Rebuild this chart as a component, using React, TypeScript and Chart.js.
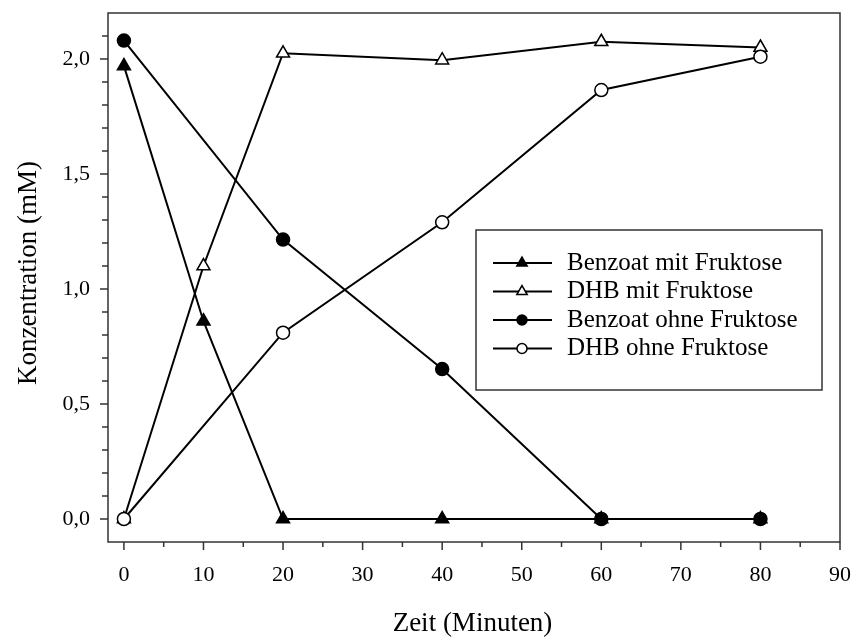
import React, { useEffect, useRef } from "react";
import { Chart, registerables } from "chart.js";

Chart.register(...registerables);

const timesTriangle = [0, 10, 20, 40, 60, 80];
const timesCircle = [0, 20, 40, 60, 80];
const benzoatMitFruktose = [1.97, 0.86, 0, 0, 0, 0];
const dhbMitFruktose = [0, 1.1, 2.025, 1.995, 2.075, 2.05];
const benzoatOhneFruktose = [2.08, 1.215, 0.652, 0, 0];
const dhbOhneFruktose = [0, 0.81, 1.29, 1.865, 2.01];

const seriesLabels = [
  "Benzoat mit Fruktose",
  "DHB mit Fruktose",
  "Benzoat ohne Fruktose",
  "DHB ohne Fruktose",
];

const xTickValues = [0, 10, 20, 30, 40, 50, 60, 70, 80, 90];
const xMinorTickValues = [5, 15, 25, 35, 45, 55, 65, 75, 85];
const yTickValues = [0, 0.5, 1.0, 1.5, 2.0];
const yMinorTickValues = [0.1, 0.2, 0.3, 0.4, 0.6, 0.7, 0.8, 0.9, 1.1, 1.2, 1.3, 1.4, 1.6, 1.7, 1.8, 1.9, 2.1];

const xTitle = "Zeit (Minuten)";
const yTitle = "Konzentration (mM)";

const FONT = "'Liberation Serif', 'DejaVu Serif', serif";

function pts(xs: number[], ys: number[]) {
  return xs.map((x, i) => ({ x, y: ys[i] }));
}

function drawMarker(ctx: CanvasRenderingContext2D, style: string, x: number, y: number, r: number, fill: string) {
  ctx.save();
  ctx.beginPath();
  if (style === "triangle") {
    let rad = 0;
    ctx.moveTo(x + Math.sin(rad) * r, y - Math.cos(rad) * r);
    rad += (2 * Math.PI) / 3;
    ctx.lineTo(x + Math.sin(rad) * r, y - Math.cos(rad) * r);
    rad += (2 * Math.PI) / 3;
    ctx.lineTo(x + Math.sin(rad) * r, y - Math.cos(rad) * r);
    ctx.closePath();
  } else {
    ctx.arc(x, y, r, 0, Math.PI * 2);
  }
  ctx.fillStyle = fill;
  ctx.fill();
  ctx.lineWidth = 1.5;
  ctx.strokeStyle = "#000";
  ctx.stroke();
  ctx.restore();
}

function zeroPadding(s: any) {
  s.paddingLeft = 0;
  s.paddingRight = 0;
  s.paddingTop = 0;
  s.paddingBottom = 0;
}

const framePlugin = {
  id: "framePlugin",
  afterDraw(chart: any) {
    const ctx: CanvasRenderingContext2D = chart.ctx;
    const { left, right, top, bottom } = chart.chartArea;
    const xs = chart.scales.x;
    const ys = chart.scales.y;
    ctx.save();
    ctx.strokeStyle = "#333";
    ctx.lineWidth = 1.5;
    ctx.strokeRect(left, top, right - left, bottom - top);
    ctx.beginPath();
    xTickValues.forEach((v) => {
      const px = xs.getPixelForValue(v);
      ctx.moveTo(px, bottom);
      ctx.lineTo(px, bottom + 8);
    });
    xMinorTickValues.forEach((v) => {
      const px = xs.getPixelForValue(v);
      ctx.moveTo(px, bottom);
      ctx.lineTo(px, bottom + 5);
    });
    yTickValues.forEach((v) => {
      const py = ys.getPixelForValue(v);
      ctx.moveTo(left, py);
      ctx.lineTo(left - 8, py);
    });
    yMinorTickValues.forEach((v) => {
      const py = ys.getPixelForValue(v);
      ctx.moveTo(left, py);
      ctx.lineTo(left - 6, py);
    });
    ctx.stroke();

    // axis titles
    ctx.fillStyle = "#000";
    ctx.font = `27px ${FONT}`;
    ctx.textAlign = "center";
    ctx.textBaseline = "alphabetic";
    ctx.fillText(xTitle, 472.5, 631);
    ctx.save();
    ctx.translate(36, 273);
    ctx.rotate(-Math.PI / 2);
    ctx.fillText(yTitle, 0, 0);
    ctx.restore();

    // legend
    const bx = 476, by = 230, bw = 346, bh = 160;
    ctx.fillStyle = "#fff";
    ctx.fillRect(bx, by, bw, bh);
    ctx.strokeStyle = "#333";
    ctx.lineWidth = 1.5;
    ctx.strokeRect(bx, by, bw, bh);
    const rows = [263, 291.5, 320, 348.5];
    chart.data.datasets.forEach((ds: any, i: number) => {
      const y = rows[i];
      ctx.beginPath();
      ctx.strokeStyle = "#000";
      ctx.lineWidth = 2;
      ctx.moveTo(493, y);
      ctx.lineTo(552, y);
      ctx.stroke();
      drawMarker(ctx, ds.pointStyle, 522, y, ds.pointStyle === "triangle" ? 6 : 5, ds.pointBackgroundColor);
      ctx.fillStyle = "#000";
      ctx.font = `25px ${FONT}`;
      ctx.textAlign = "left";
      ctx.textBaseline = "middle";
      ctx.fillText(ds.label, 567, y);
    });
    ctx.restore();
  },
};

export default function App() {
  const canvasRef = useRef<HTMLCanvasElement | null>(null);

  useEffect(() => {
    document.body.style.margin = "0";
    const canvas = canvasRef.current;
    if (!canvas) return;
    const chart = new Chart(canvas, {
      type: "line",
      data: {
        datasets: [
          {
            label: seriesLabels[0],
            data: pts(timesTriangle, benzoatMitFruktose),
            pointStyle: "triangle",
            pointRadius: 7.5,
            pointBackgroundColor: "#000",
            order: 3,
          },
          {
            label: seriesLabels[1],
            data: pts(timesTriangle, dhbMitFruktose),
            pointStyle: "triangle",
            pointRadius: 7.5,
            pointBackgroundColor: "#fff",
            order: 2,
          },
          {
            label: seriesLabels[2],
            data: pts(timesCircle, benzoatOhneFruktose),
            pointStyle: "circle",
            pointRadius: 6.5,
            pointBackgroundColor: "#000",
            order: 1,
          },
          {
            label: seriesLabels[3],
            data: pts(timesCircle, dhbOhneFruktose),
            pointStyle: "circle",
            pointRadius: 6.5,
            pointBackgroundColor: "#fff",
            order: 0,
          },
        ].map((d) => ({
          ...d,
          borderColor: "#000",
          borderWidth: 2,
          pointBorderColor: "#000",
          pointBorderWidth: 1.5,
          tension: 0,
          fill: false,
        })) as any,
      },
      options: {
        responsive: false,
        animation: false,
        layout: { padding: { top: 13, right: 14, left: 0, bottom: 0 } },
        plugins: { legend: { display: false }, tooltip: { enabled: false } },
        scales: {
          x: {
            type: "linear",
            min: -2,
            max: 90,
            grid: { display: false, drawTicks: false },
            border: { display: false },
            afterBuildTicks: (s: any) => {
              s.ticks = xTickValues.map((v) => ({ value: v }));
            },
            afterFit: (s: any) => {
              s.height = 96;
              zeroPadding(s);
            },
            ticks: {
              autoSkip: false,
              maxRotation: 0,
              padding: 20,
              color: "#000",
              font: { family: FONT, size: 22 },
              callback: (v: any) => String(v),
            },
          },
          y: {
            type: "linear",
            min: -0.1,
            max: 2.2,
            grid: { display: false, drawTicks: false },
            border: { display: false },
            afterBuildTicks: (s: any) => {
              s.ticks = yTickValues.map((v) => ({ value: v }));
            },
            afterFit: (s: any) => {
              s.width = 108;
              zeroPadding(s);
            },
            ticks: {
              autoSkip: false,
              padding: 18,
              color: "#000",
              font: { family: FONT, size: 22 },
              callback: (v: any) => Number(v).toFixed(1).replace(".", ","),
            },
          },
        },
      },
      plugins: [framePlugin],
    });
    return () => chart.destroy();
  }, []);

  return (
    <div style={{ width: 854, height: 638 }}>
      <canvas ref={canvasRef} width={854} height={638} style={{ display: "block" }} />
    </div>
  );
}
